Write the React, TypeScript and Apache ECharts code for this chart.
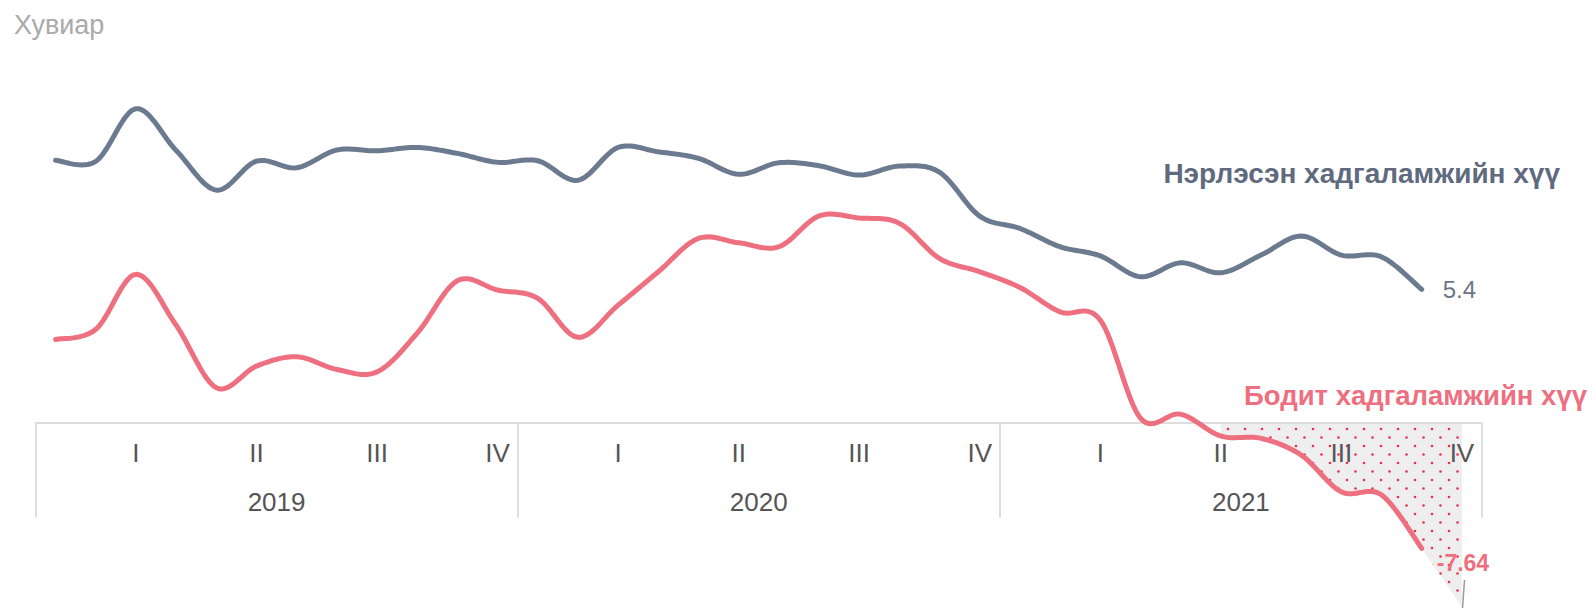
import React, { useEffect, useRef } from "react";
import * as echarts from "echarts";

const years = ["2019", "2020", "2021"];
const quarterLabels = ["I", "II", "III", "IV"];
const months = years.flatMap((y) =>
  ["01", "02", "03", "04", "05", "06", "07", "08", "09", "10", "11", "12"].map((m) => `${y}-${m}`)
);

const nominalName = "Нэрлэсэн хадгаламжийн хүү";
const realName = "Бодит хадгаламжийн хүү";

const nominal = [
  11.9, 11.85, 14.5, 12.4, 10.4, 11.86, 11.53, 12.42, 12.38, 12.55, 12.25, 11.8,
  11.88, 10.9, 12.55, 12.33, 12.0, 11.2, 11.78, 11.63, 11.16, 11.61, 11.3, 9.09,
  8.47, 7.55, 7.09, 6.04, 6.74, 6.24, 7.13, 8.09, 7.13, 7.04, 5.4,
];

const real = [
  2.88, 3.39, 6.16, 3.6, 0.45, 1.54, 2.01, 1.37, 1.25, 3.2, 5.84, 5.37,
  4.95, 2.99, 4.61, 6.29, 7.97, 7.75, 7.55, 9.1, 9.0, 8.73, 6.96, 6.29,
  5.5, 4.27, 3.86, -1.08, -0.88, -1.98, -2.1, -2.94, -4.79, -4.95, -7.64,
];

// projected (shaded) part: from June 2021 to December 2021
const projectionStart = 29;
const projectionEnd = -10.58;

const Y_MIN = -1.3;
const Y_MAX = 15;

const NOMINAL_COLOR = "#6b7a8f";
const REAL_COLOR = "#ee6f80";
const FONT = "'Liberation Sans', Arial, sans-serif";

function makePattern(): string {
  const c = document.createElement("canvas");
  c.width = 17;
  c.height = 17;
  const ctx = c.getContext("2d")!;
  ctx.fillStyle = "#eeeeee";
  ctx.fillRect(0, 0, 17, 17);
  ctx.fillStyle = "#e8304f";
  ctx.beginPath();
  ctx.arc(4, 4, 1.3, 0, Math.PI * 2);
  ctx.fill();
  ctx.beginPath();
  ctx.arc(12.5, 12.5, 1.3, 0, Math.PI * 2);
  ctx.fill();
  return c.toDataURL();
}

// Catmull-Rom curve through pixel points, sampled; returns samples per segment
function catmullSegments(pts: number[][], steps = 16): number[][][] {
  const segs: number[][][] = [];
  const n = pts.length;
  for (let i = 0; i < n - 1; i++) {
    const p0 = pts[i - 1] || pts[i];
    const p1 = pts[i];
    const p2 = pts[i + 1];
    const p3 = pts[i + 2] || pts[i + 1];
    const c1 = [p1[0] + (p2[0] - p0[0]) / 6, p1[1] + (p2[1] - p0[1]) / 6];
    const c2 = [p2[0] - (p3[0] - p1[0]) / 6, p2[1] - (p3[1] - p1[1]) / 6];
    const seg: number[][] = [];
    for (let s = 0; s <= steps; s++) {
      const t = s / steps;
      const mt = 1 - t;
      const a = mt * mt * mt;
      const b = 3 * mt * mt * t;
      const c = 3 * mt * t * t;
      const d = t * t * t;
      seg.push([
        a * p1[0] + b * c1[0] + c * c2[0] + d * p2[0],
        a * p1[1] + b * c1[1] + c * c2[1] + d * p2[1],
      ]);
    }
    segs.push(seg);
  }
  return segs;
}

function flatten(segs: number[][][]): number[][] {
  const out: number[][] = [];
  segs.forEach((seg, k) => seg.forEach((p, j) => { if (k === 0 || j > 0) out.push(p); }));
  return out;
}

export default function App() {
  const ref = useRef<HTMLDivElement>(null);

  useEffect(() => {
    if (!ref.current) return;
    const chart = echarts.init(ref.current, undefined, { renderer: "svg" });
    const pattern = makePattern();

    const lineSeries = (
      name: string,
      values: number[],
      color: string,
      label: any
    ) => ({
      name,
      type: "custom",
      clip: false,
      z: 3,
      data: values.map((v, i) => [i, v]),
      encode: { x: 0, y: 1 },
      renderItem: (params: any, api: any) => {
        if (params.dataIndex !== values.length - 1) return null;
        const pts = values.map((v, i) => api.coord([i, v]));
        const curve = flatten(catmullSegments(pts));
        const end = pts[pts.length - 1];
        return {
          type: "group",
          children: [
            {
              type: "polyline",
              shape: { points: curve },
              style: { stroke: color, lineWidth: 5, fill: "none", lineCap: "round", lineJoin: "round" },
            },
            {
              type: "text",
              x: end[0] + label.dx,
              y: end[1] + label.dy,
              style: {
                text: String(values[values.length - 1]),
                textVerticalAlign: "middle",
                fontSize: label.fontSize,
                fontWeight: label.fontWeight,
                fill: label.color,
                fontFamily: FONT,
              },
            },
          ],
        };
      },
    });

    const projData = months.map((_, i) => [i, i < real.length ? real[i] : projectionEnd]);

    chart.setOption({
      animation: false,
      title: {
        text: "Хувиар",
        left: 9,
        top: 6,
        textStyle: { fontSize: 27, fontWeight: "normal", color: "#aaaaaa", fontFamily: FONT },
      },
      grid: { left: 35.5, right: 112, top: 98.8, bottom: 185.5, containLabel: false },
      xAxis: [
        {
          type: "category",
          data: months,
          position: "bottom",
          boundaryGap: true,
          axisLine: { show: false },
          axisTick: { show: false },
          axisLabel: {
            interval: (index: number) => index % 3 === 2,
            formatter: (_v: string, index: number) => quarterLabels[Math.floor((index % 12) / 3)],
            margin: 30.5,
            verticalAlign: "middle",
            fontSize: 26,
            color: "#555555",
            fontFamily: FONT,
          },
        },
        {
          type: "category",
          data: years,
          position: "bottom",
          boundaryGap: true,
          axisLine: { show: true, lineStyle: { color: "#dddddd", width: 2 } },
          axisTick: { show: true, interval: 0, length: 95, lineStyle: { color: "#dddddd", width: 2 } },
          axisLabel: {
            margin: 79.5,
            verticalAlign: "middle",
            fontSize: 26,
            color: "#555555",
            fontFamily: FONT,
          },
        },
      ],
      yAxis: {
        type: "value",
        min: Y_MIN,
        max: Y_MAX,
        show: false,
      },
      series: [
        {
          name: "projection",
          type: "custom",
          clip: false,
          z: -1,
          silent: true,
          data: projData,
          encode: { x: 0, y: 1 },
          renderItem: (params: any, api: any) => {
            if (params.dataIndex !== projData.length - 1) return null;
            const realPts = real.map((v, i) => api.coord([i, v]));
            const segs = catmullSegments(realPts);
            const part = flatten(segs.slice(projectionStart));
            const last = api.coord([projData.length - 1, projectionEnd]);
            const baseEnd = api.coord([projData.length - 1, Y_MIN]);
            const baseStart = api.coord([projectionStart, Y_MIN]);
            const poly = [baseStart, ...part, last, baseEnd];
            return {
              type: "polygon",
              shape: { points: poly },
              style: { fill: { image: pattern, repeat: "repeat" }, stroke: "none" },
            };
          },
        },
        lineSeries(nominalName, nominal, NOMINAL_COLOR, {
          dx: 21,
          dy: 0,
          fontSize: 24,
          fontWeight: "normal",
          color: "#6b7688",
        }),
        lineSeries(realName, real, REAL_COLOR, {
          dx: 15,
          dy: 15,
          fontSize: 23,
          fontWeight: "bold",
          color: REAL_COLOR,
        }),
      ],
      graphic: [
        {
          type: "text",
          x: 1560,
          y: 173.6,
          style: {
            text: nominalName,
            textAlign: "right",
            textVerticalAlign: "middle",
            fontSize: 28,
            fontWeight: "bold",
            fill: "#5f6a7e",
            fontFamily: FONT,
          },
        },
        {
          type: "text",
          x: 1587,
          y: 395.5,
          style: {
            text: realName,
            textAlign: "right",
            textVerticalAlign: "middle",
            fontSize: 27.5,
            fontWeight: "bold",
            fill: REAL_COLOR,
            fontFamily: FONT,
          },
        },
        {
          type: "line",
          shape: { x1: 1464.5, y1: 580, x2: 1462.5, y2: 608 },
          style: { stroke: "#999999", lineWidth: 1.5 },
        },
      ],
    });

    return () => chart.dispose();
  }, []);

  return (
    <div
      ref={ref}
      style={{ position: "absolute", left: 0, top: 0, width: 1594, height: 608 }}
    />
  );
}
